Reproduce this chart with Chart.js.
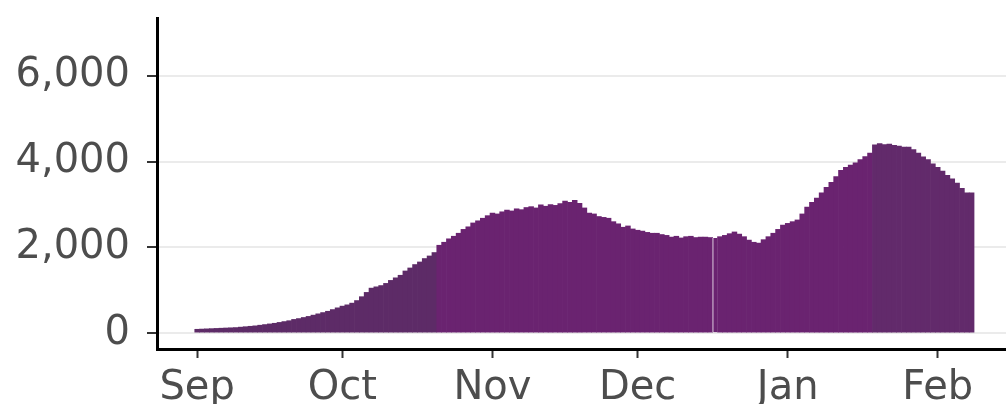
<!DOCTYPE html>
<html>
<head>
<meta charset="utf-8">
<script src="https://cdn.jsdelivr.net/npm/chart.js@4/dist/chart.umd.min.js"></script>
<style>
  html, body { margin: 0; padding: 0; background: #fff; }
  #wrap { width: 1006px; height: 404px; position: relative; }
</style>
</head>
<body>
<div id="wrap"><canvas id="chart"></canvas></div>
<script>
// daily values, one array per month (Sep .. early Feb)
var sepVals = [90, 95, 100, 105, 110, 115, 120, 125, 130, 140,
               150, 160, 170, 185, 200, 215, 230, 250, 270, 290,
               320, 340, 365, 390, 420, 450, 480, 510, 550, 590];
var octVals = [630, 660, 700, 760, 850, 950, 1050, 1080, 1110, 1160,
               1230, 1290, 1350, 1450, 1520, 1600, 1660, 1740, 1800, 1880,
               2050, 2120, 2200, 2260, 2330, 2420, 2480, 2570, 2620, 2680,
               2740];
var novVals = [2800, 2780, 2830, 2870, 2850, 2900, 2880, 2930, 2950, 2920,
               2990, 2960, 3000, 2980, 3020, 3080, 3050, 3100, 3030, 2920,
               2800, 2780, 2720, 2700, 2680, 2600, 2550, 2470, 2500, 2430];
var decVals = [2400, 2380, 2350, 2330, 2330, 2300, 2280, 2240, 2260, 2220,
               2250, 2260, 2230, 2240, 2240, 2230, 2220, 2250, 2280, 2320,
               2360, 2310, 2250, 2170, 2120, 2100, 2180, 2250, 2330, 2420,
               2520];
var janVals = [2560, 2600, 2640, 2780, 2940, 3050, 3150, 3270, 3400, 3520,
               3650, 3800, 3870, 3920, 3970, 4050, 4120, 4200, 4390, 4420,
               4400, 4410, 4380, 4360, 4340, 4340, 4280, 4200, 4110, 4050,
               3950];
var febVals = [3870, 3780, 3680, 3600, 3500, 3380, 3270, 3270];

var monthLabels = ['Sep', 'Oct', 'Nov', 'Dec', 'Jan', 'Feb'];
var yTicks = [0, 2000, 4000, 6000];

var months = [sepVals, octVals, novVals, decVals, janVals, febVals];
var values = [];
var monthStarts = [];
months.forEach(function (m) {
    monthStarts.push(values.length);
    values = values.concat(m);
});
var points = values.map(function (v, i) { return { x: i, y: v }; });

// fill shades change at a couple of points in the series
function barColor(ctx) {
    var i = ctx.dataIndex;
    if (i < 50) return '#5d2b67';
    if (i < 140) return '#6a2370';
    return '#622a6b';
}

var tickFont = { family: 'DejaVu Sans', size: 40 };

new Chart(document.getElementById('chart'), {
    type: 'bar',
    data: {
        datasets: [{
            data: points,
            backgroundColor: barColor,
            borderColor: '#ffffff',
            borderWidth: function (ctx) { return ctx.dataIndex === 107 ? { left: 1 } : 0; },
            borderSkipped: false,
            barPercentage: 1,
            categoryPercentage: 1
        }]
    },
    options: {
        responsive: true,
        maintainAspectRatio: false,
        animation: false,
        layout: { padding: { top: 18, left: 0, right: 0, bottom: 0 } },
        scales: {
            x: {
                type: 'linear',
                offset: false,
                min: -8.3,
                max: 167.1,
                afterBuildTicks: function (scale) {
                    scale.ticks = monthStarts.map(function (v) { return { value: v }; });
                },
                afterFit: function (scale) {
                    scale.height = 55;
                    scale.paddingLeft = 0;
                    scale.paddingRight = 0;
                },
                ticks: {
                    autoSkip: false,
                    maxRotation: 0,
                    color: '#4d4d4d',
                    font: tickFont,
                    padding: 7,
                    callback: function (v) {
                        var k = monthStarts.indexOf(v);
                        return k >= 0 ? monthLabels[k] : '';
                    }
                },
                grid: {
                    offset: false,
                    drawOnChartArea: false,
                    drawTicks: true,
                    tickLength: 9,
                    tickWidth: 2,
                    tickColor: '#333333'
                },
                border: { color: '#000000', width: 3 }
            },
            y: {
                min: -370,
                max: 7350,
                afterBuildTicks: function (scale) {
                    scale.ticks = yTicks.map(function (v) { return { value: v }; });
                },
                afterFit: function (scale) {
                    scale.width = 157;
                    scale.paddingTop = 0;
                    scale.paddingBottom = 0;
                },
                ticks: {
                    color: '#4d4d4d',
                    font: tickFont,
                    padding: 17,
                    callback: function (v) { return v.toLocaleString('en-US'); }
                },
                grid: {
                    color: '#ebebeb',
                    lineWidth: 2,
                    tickLength: 10,
                    tickWidth: 2,
                    tickColor: '#333333'
                },
                border: { color: '#000000', width: 3 }
            }
        },
        plugins: {
            legend: { display: false },
            tooltip: { enabled: false }
        }
    }
});
</script>
</body>
</html>
